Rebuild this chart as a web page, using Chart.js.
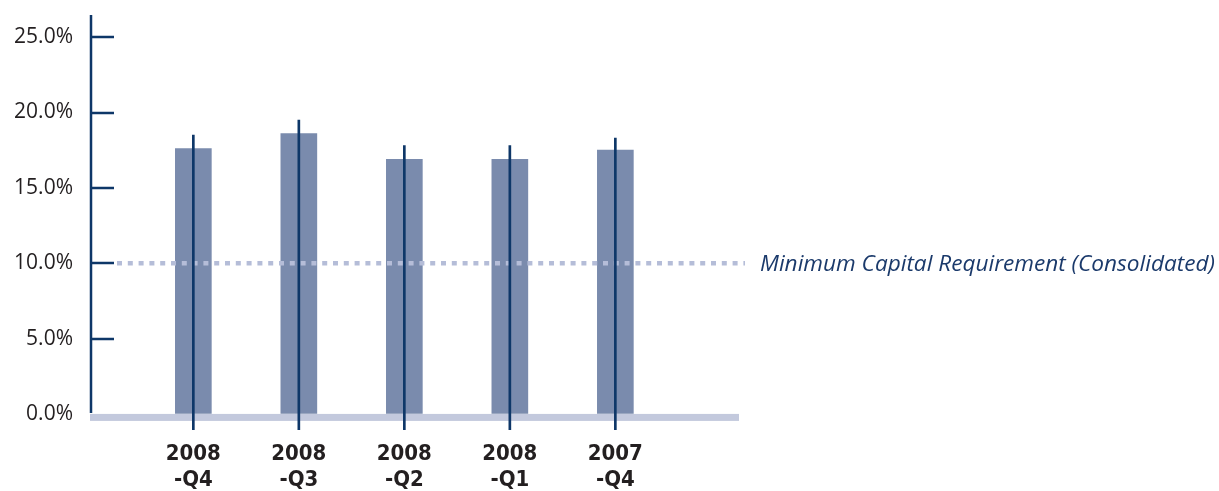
<!DOCTYPE html>
<html>
<head>
<meta charset="utf-8">
<script src="https://cdn.jsdelivr.net/npm/chart.js@4.4.1/dist/chart.umd.min.js"></script>
<style>
html,body{margin:0;padding:0;background:#fff;}
#wrap{width:1219px;height:491px;position:relative;}
</style>
</head>
<body>
<div id="wrap"><canvas id="c" width="1219" height="491"></canvas></div>
<script>
// ---- data ----
const categories = ['2008-Q4', '2008-Q3', '2008-Q2', '2008-Q1', '2007-Q4'];
const xTickLabels = [['2008', '-Q4'], ['2008', '-Q3'], ['2008', '-Q2'], ['2008', '-Q1'], ['2007', '-Q4']];
const capitalRatio = [17.6, 18.6, 16.9, 16.9, 17.5];
const rangeHigh = [18.5, 19.5, 17.8, 17.8, 18.3];
const rangeLow = [-1.05, -1.05, -1.05, -1.05, -1.05];
const yTickValues = [0, 5, 10, 15, 20, 25];
const minRequirement = 10;
const minRequirementLabel = 'Minimum Capital Requirement (Consolidated)';

const NAVY = '#0e3768';
const BAR = '#7a8bad';

const decor = {
  id: 'decor',
  beforeDatasetsDraw(chart) {
    const ctx = chart.ctx, y = chart.scales.y, ca = chart.chartArea;
    const y0 = y.getPixelForValue(0);
    ctx.save();
    ctx.fillStyle = '#c3c9dd';
    ctx.fillRect(ca.left - 1, y0, ca.right - ca.left + 1, 7);
    ctx.strokeStyle = NAVY;
    ctx.lineWidth = 2.5;
    ctx.beginPath();
    ctx.moveTo(ca.left, ca.top);
    ctx.lineTo(ca.left, y0 - 1);
    ctx.stroke();
    yTickValues.forEach(v => {
      if (v === 0) return;
      const py = Math.round(y.getPixelForValue(v));
      ctx.beginPath();
      ctx.moveTo(ca.left, py);
      ctx.lineTo(ca.left + 23, py);
      ctx.stroke();
    });
    ctx.restore();
  },
  afterDatasetDraw(chart, args) {
    if (args.index !== 0) return;
    const ctx = chart.ctx, y = chart.scales.y, ca = chart.chartArea;
    const py = y.getPixelForValue(minRequirement);
    ctx.save();
    ctx.strokeStyle = '#b5bdd8';
    ctx.lineWidth = 4.5;
    ctx.setLineDash([5, 5.8]);
    ctx.beginPath();
    ctx.moveTo(ca.left + 26, py);
    ctx.lineTo(ca.right + 6, py);
    ctx.stroke();
    ctx.setLineDash([]);
    ctx.fillStyle = '#1b3a6b';
    ctx.font = 'italic 22.6px "Open Sans", "Noto Sans", sans-serif';
    ctx.textAlign = 'left';
    ctx.textBaseline = 'middle';
    ctx.fillText(minRequirementLabel, ca.right + 21, py + 1);
    ctx.restore();
  }
};

new Chart(document.getElementById('c'), {
  type: 'bar',
  data: {
    datasets: [
      {
        label: 'Capital ratio',
        data: capitalRatio.map((v, i) => ({ x: i + 1, y: v })),
        backgroundColor: BAR,
        barThickness: 36,
        grouped: false,
        order: 2
      },
      {
        label: 'Range',
        data: rangeHigh.map((v, i) => ({ x: i + 1, y: [rangeLow[i], v] })),
        backgroundColor: NAVY,
        barThickness: 2,
        grouped: false,
        order: 1
      }
    ]
  },
  plugins: [decor],
  options: {
    responsive: false,
    animation: false,
    layout: { padding: { top: 15, right: 480, bottom: 0, left: 0 } },
    plugins: { legend: { display: false }, tooltip: { enabled: false } },
    scales: {
      x: {
        type: 'linear',
        offset: false,
        min: 0.03,
        max: 6.172,
        afterBuildTicks(scale) { scale.ticks = [1, 2, 3, 4, 5].map(v => ({ value: v })); },
        afterFit(scale) { scale.height = 61; },
        grid: { display: false, drawTicks: false, offset: false },
        border: { display: false },
        ticks: {
          autoSkip: false,
          maxRotation: 0,
          padding: 11,
          color: '#231f20',
          font: { family: '"Liberation Sans Narrow", "DejaVu Sans Condensed", sans-serif', size: 22, weight: 'bold', lineHeight: 1.18 },
          callback: (v) => xTickLabels[v - 1] || ''
        }
      },
      y: {
        min: -1.067,
        max: 26.47,
        afterBuildTicks(scale) { scale.ticks = yTickValues.map(v => ({ value: v })); },
        afterFit(scale) { scale.width = 91; },
        grid: { display: true, drawOnChartArea: false, drawTicks: true, tickLength: 18, color: 'rgba(0,0,0,0)' },
        border: { display: false },
        ticks: {
          padding: 0,
          color: '#231f20',
          font: { family: '"Open Sans", "Noto Sans", sans-serif', size: 21 },
          callback: (v) => v.toFixed(1) + '%'
        }
      }
    }
  }
});
</script>
</body>
</html>
